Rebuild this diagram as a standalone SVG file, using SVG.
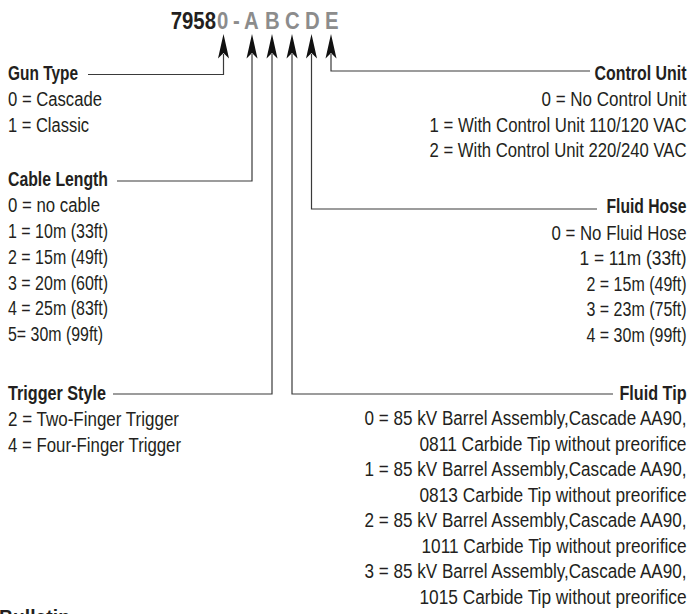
<svg xmlns="http://www.w3.org/2000/svg" width="691" height="614" viewBox="0 0 691 614">
<style>
.t{font-family:"Liberation Sans",Arial,sans-serif;font-size:20px;fill:#231f20}
.b{font-weight:bold}
.r{text-anchor:end}
.hd{font-family:"Liberation Sans",Arial,sans-serif;font-size:24.5px;font-weight:bold}
.dk{fill:#231f20}
.gy{fill:#8c8c8c}
.ln{fill:none;stroke:#3a3a3a;stroke-width:1.2}
.ah{fill:#111}
</style>
<defs>
<polygon id="arr" points="0,34 5.5,58.5 0,53 -5.5,58.5"/>
</defs>
<g id="title">
<text class="hd" y="29" transform="scale(0.83,1)"><tspan class="dk" x="205.7">7958</tspan><tspan class="gy" x="261.4">0</tspan><tspan class="gy" x="280.7">-</tspan><tspan class="gy" x="294">A</tspan><tspan class="gy" x="319.3">B</tspan><tspan class="gy" x="343.4">C</tspan><tspan class="gy" x="367.5">D</tspan><tspan class="gy" x="391.6">E</tspan></text>
</g>
<g id="connectors">
<use href="#arr" x="223.5" class="ah"/>
<use href="#arr" x="252" class="ah"/>
<use href="#arr" x="272" class="ah"/>
<use href="#arr" x="292" class="ah"/>
<use href="#arr" x="311.5" class="ah"/>
<use href="#arr" x="331" class="ah"/>
<polyline class="ln" points="88,74.5 223.5,74.5 223.5,54"/>
<polyline class="ln" points="117,181 252,181 252,54"/>
<polyline class="ln" points="113,394 272,394 272,54"/>
<polyline class="ln" points="613,394 292,394 292,54"/>
<polyline class="ln" points="597,209 311.5,209 311.5,54"/>
<polyline class="ln" points="590,71 331,71 331,54"/>
</g>
<g id="gun-type" transform="translate(8,0) scale(0.8,1)">
<text class="t b" x="0" y="80" textLength="87.5" lengthAdjust="spacingAndGlyphs">Gun Type</text>
<text class="t" x="0" y="106.5" textLength="117.5" lengthAdjust="spacingAndGlyphs">0 = Cascade</text>
<text class="t" x="0" y="132" textLength="101.3" lengthAdjust="spacingAndGlyphs">1 = Classic</text>
</g>
<g id="cable-length" transform="translate(8,0) scale(0.8,1)">
<text class="t b" x="0" y="186.5" textLength="125" lengthAdjust="spacingAndGlyphs">Cable Length</text>
<text class="t" x="0" y="212.5" textLength="115" lengthAdjust="spacingAndGlyphs">0 = no cable</text>
<text class="t" x="0" y="238.5" textLength="125" lengthAdjust="spacingAndGlyphs">1 = 10m (33ft)</text>
<text class="t" x="0" y="264" textLength="125" lengthAdjust="spacingAndGlyphs">2 = 15m (49ft)</text>
<text class="t" x="0" y="290" textLength="125" lengthAdjust="spacingAndGlyphs">3 = 20m (60ft)</text>
<text class="t" x="0" y="315.5" textLength="125" lengthAdjust="spacingAndGlyphs">4 = 25m (83ft)</text>
<text class="t" x="0" y="341" textLength="118.8" lengthAdjust="spacingAndGlyphs">5= 30m (99ft)</text>
</g>
<g id="trigger-style" transform="translate(8,0) scale(0.8,1)">
<text class="t b" x="0" y="400" textLength="122.5" lengthAdjust="spacingAndGlyphs">Trigger Style</text>
<text class="t" x="0" y="426.5" textLength="213.8" lengthAdjust="spacingAndGlyphs">2 = Two-Finger Trigger</text>
<text class="t" x="0" y="452.5" textLength="216.3" lengthAdjust="spacingAndGlyphs">4 = Four-Finger Trigger</text>
</g>
<g id="control-unit" transform="translate(686.5,0) scale(0.8,1)">
<text class="t b r" x="0" y="80" textLength="115" lengthAdjust="spacingAndGlyphs">Control Unit</text>
<text class="t r" x="0" y="106.5" textLength="181.3" lengthAdjust="spacingAndGlyphs">0 = No Control Unit</text>
<text class="t r" x="0" y="132" textLength="321.3" lengthAdjust="spacingAndGlyphs">1 = With Control Unit 110/120 VAC</text>
<text class="t r" x="0" y="157.5" textLength="321.3" lengthAdjust="spacingAndGlyphs">2 = With Control Unit 220/240 VAC</text>
</g>
<g id="fluid-hose" transform="translate(686.5,0) scale(0.8,1)">
<text class="t b r" x="0" y="213.5" textLength="100" lengthAdjust="spacingAndGlyphs">Fluid Hose</text>
<text class="t r" x="0" y="240" textLength="168.8" lengthAdjust="spacingAndGlyphs">0 = No Fluid Hose</text>
<text class="t r" x="0" y="265.5" textLength="133.8" lengthAdjust="spacingAndGlyphs">1 = 11m (33ft)</text>
<text class="t r" x="0" y="291" textLength="125" lengthAdjust="spacingAndGlyphs">2 = 15m (49ft)</text>
<text class="t r" x="0" y="316.5" textLength="125" lengthAdjust="spacingAndGlyphs">3 = 23m (75ft)</text>
<text class="t r" x="0" y="342" textLength="125" lengthAdjust="spacingAndGlyphs">4 = 30m (99ft)</text>
</g>
<g id="fluid-tip" transform="translate(686.5,0) scale(0.8,1)">
<text class="t b r" x="0" y="400" textLength="83.8" lengthAdjust="spacingAndGlyphs">Fluid Tip</text>
<text class="t r" x="0" y="425.5" textLength="402.5" lengthAdjust="spacingAndGlyphs">0 = 85 kV Barrel Assembly,Cascade AA90,</text>
<text class="t r" x="0" y="451" textLength="333.8" lengthAdjust="spacingAndGlyphs">0811 Carbide Tip without preorifice</text>
<text class="t r" x="0" y="476.5" textLength="402.5" lengthAdjust="spacingAndGlyphs">1 = 85 kV Barrel Assembly,Cascade AA90,</text>
<text class="t r" x="0" y="502" textLength="333.8" lengthAdjust="spacingAndGlyphs">0813 Carbide Tip without preorifice</text>
<text class="t r" x="0" y="527.5" textLength="402.5" lengthAdjust="spacingAndGlyphs">2 = 85 kV Barrel Assembly,Cascade AA90,</text>
<text class="t r" x="0" y="553" textLength="331.3" lengthAdjust="spacingAndGlyphs">1011 Carbide Tip without preorifice</text>
<text class="t r" x="0" y="578.5" textLength="402.5" lengthAdjust="spacingAndGlyphs">3 = 85 kV Barrel Assembly,Cascade AA90,</text>
<text class="t r" x="0" y="604" textLength="333.8" lengthAdjust="spacingAndGlyphs">1015 Carbide Tip without preorifice</text>
</g>
<g id="bulletin">
<text x="-1" y="624" textLength="71" lengthAdjust="spacingAndGlyphs" style="font-family:'Liberation Sans',sans-serif;font-size:21px;font-weight:bold;fill:#231f20">Bulletin</text>
</g>
</svg>
